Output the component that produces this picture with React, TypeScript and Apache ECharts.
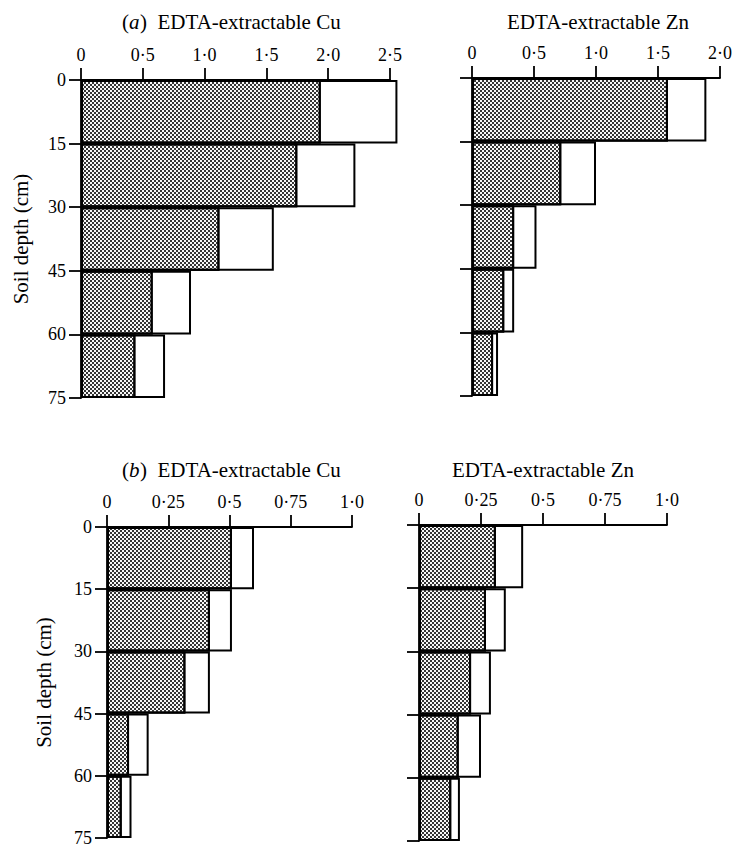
import React, { useEffect, useRef } from "react";
import * as echarts from "echarts";

// Depth layers (cm) and boundary tick labels
const depthLayers = ["0–15", "15–30", "30–45", "45–60", "60–75"];
const depthTicks = ["0", "15", "30", "45", "60", "75"];

// (a) panel values
const aCuOpen = [2.56, 2.22, 1.56, 0.89, 0.68];
const aCuShaded = [1.94, 1.75, 1.12, 0.58, 0.44];
const aZnOpen = [1.89, 1.0, 0.52, 0.34, 0.21];
const aZnShaded = [1.58, 0.72, 0.34, 0.26, 0.17];

// (b) panel values
const bCuOpen = [0.6, 0.51, 0.42, 0.17, 0.1];
const bCuShaded = [0.51, 0.42, 0.32, 0.09, 0.06];
const bZnOpen = [0.42, 0.35, 0.29, 0.25, 0.165];
const bZnShaded = [0.31, 0.27, 0.21, 0.16, 0.13];

// Axis tick labels
const aCuTicks = ["0", "0·5", "1·0", "1·5", "2·0", "2·5"];
const aZnTicks = ["0", "0·5", "1·0", "1·5", "2·0"];
const bTicks = ["0", "0·25", "0·5", "0·75", "1·0"];

const FONT = "Liberation Serif";

export default function App() {
  const ref = useRef<HTMLDivElement>(null);

  useEffect(() => {
    if (!ref.current) return;
    const chart = echarts.init(ref.current, undefined, { renderer: "svg" });

    const stipple: any = {
      color: "#f8f8f8",
      decal: {
        symbol: "rect",
        symbolSize: 1,
        color: "#353535",
        dashArrayX: [[2, 2], [0, 2, 2, 0]],
        dashArrayY: [2, 0],
        rotation: 0,
        maxTileWidth: 64,
        maxTileHeight: 64,
      },
    };

    const panels = [
      { grid: { left: 81, top: 80, width: 309, height: 318 }, max: 2.5, interval: 0.5, ticks: aCuTicks, open: aCuOpen, shaded: aCuShaded, yLabels: true, nameGap: 50 },
      { grid: { left: 472, top: 78, width: 250, height: 318 }, max: 2.0, interval: 0.5, ticks: aZnTicks, open: aZnOpen, shaded: aZnShaded, yLabels: false, nameGap: 0 },
      { grid: { left: 107, top: 527, width: 245, height: 316 }, max: 1.0, interval: 0.25, ticks: bTicks, open: bCuOpen, shaded: bCuShaded, yLabels: true, nameGap: 53 },
      { grid: { left: 419, top: 525, width: 248, height: 316 }, max: 1.0, interval: 0.25, ticks: bTicks, open: bZnOpen, shaded: bZnShaded, yLabels: false, nameGap: 0 },
    ];

    const lineStyle = { color: "#000", width: 1.8 };
    const grids: any[] = [];
    const xAxes: any[] = [];
    const yAxes: any[] = [];
    const series: any[] = [];

    panels.forEach((p, i) => {
      grids.push({ ...p.grid, containLabel: false });
      xAxes.push({
        type: "value",
        gridIndex: i,
        position: "top",
        min: 0,
        max: p.max,
        interval: p.interval,
        axisLine: { show: true, lineStyle },
        axisTick: { show: true, inside: false, length: 12, lineStyle },
        splitLine: { show: false },
        axisLabel: {
          show: true,
          margin: 16,
          fontFamily: FONT,
          fontSize: 18,
          color: "#000",
          showMinLabel: true,
          showMaxLabel: true,
          formatter: (v: number) => p.ticks[Math.round(v / p.interval)] ?? "",
        },
      });
      yAxes.push({
        type: "category",
        gridIndex: i,
        data: depthLayers,
        inverse: true,
        show: false,
      });
      yAxes.push({
        type: "value",
        gridIndex: i,
        position: "left",
        inverse: true,
        min: 0,
        max: 75,
        interval: 15,
        name: p.yLabels ? "Soil depth (cm)" : "",
        nameLocation: "middle",
        nameGap: p.nameGap,
        nameRotate: 90,
        nameTextStyle: { fontFamily: FONT, fontSize: 21, color: "#000" },
        axisLine: { show: true, lineStyle },
        axisTick: { show: true, inside: false, length: 12, lineStyle },
        splitLine: { show: false },
        axisLabel: {
          show: p.yLabels,
          margin: 15,
          fontFamily: FONT,
          fontSize: 18,
          color: "#000",
          showMinLabel: true,
          showMaxLabel: true,
          formatter: (v: number) => depthTicks[Math.round(v / 15)] ?? "",
        },
      });
      const common = {
        type: "bar",
        xAxisIndex: i,
        yAxisIndex: 2 * i,
        barGap: "-100%",
        barCategoryGap: "0%",
        clip: false,
        silent: true,
        emphasis: { disabled: true },
      };
      series.push({
        ...common,
        name: "open",
        data: p.open,
        itemStyle: { color: "#fff", borderColor: "#000", borderWidth: 2 },
      });
      series.push({
        ...common,
        name: "stippled",
        data: p.shaded,
        itemStyle: { ...stipple, borderColor: "#000", borderWidth: 2 },
      });
    });

    const titleStyle = {
      fontFamily: FONT,
      fontSize: 21,
      fontWeight: "normal",
      color: "#000",
    };

    chart.setOption({
      animation: false,
      aria: { enabled: false, decal: { show: false } },
      title: [
        { text: "(", left: 122, top: 11, padding: 0, textStyle: titleStyle },
        { text: "a", left: 129, top: 11, padding: 0, textStyle: { ...titleStyle, fontStyle: "italic" } },
        { text: ")  EDTA-extractable Cu", left: 140, top: 11, padding: 0, textStyle: titleStyle },
        { text: "EDTA-extractable Zn", left: 507, top: 11, padding: 0, textStyle: titleStyle },
        { text: "(", left: 122, top: 459, padding: 0, textStyle: titleStyle },
        { text: "b", left: 129, top: 459, padding: 0, textStyle: { ...titleStyle, fontStyle: "italic" } },
        { text: ")  EDTA-extractable Cu", left: 140, top: 459, padding: 0, textStyle: titleStyle },
        { text: "EDTA-extractable Zn", left: 452, top: 459, padding: 0, textStyle: titleStyle },
      ],
      grid: grids,
      xAxis: xAxes,
      yAxis: yAxes,
      series,
    });

    return () => chart.dispose();
  }, []);

  return (
    <div
      ref={ref}
      style={{ position: "fixed", left: 0, top: 0, width: 735, height: 847, background: "#fff" }}
    />
  );
}
